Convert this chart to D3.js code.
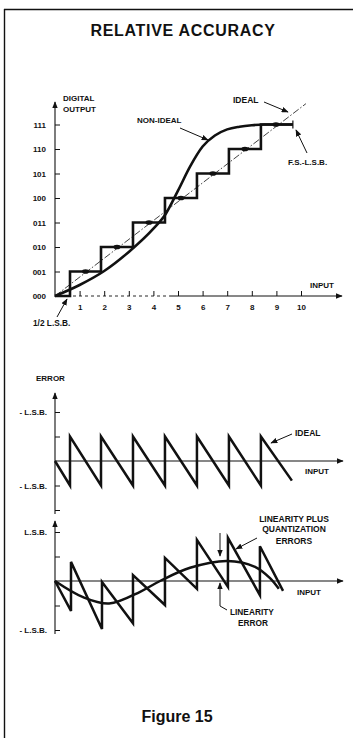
<!DOCTYPE html>
<html><head><meta charset="utf-8">
<script src="https://cdn.jsdelivr.net/npm/d3@7"></script>
<style>
html,body{margin:0;padding:0;background:#fff;}
svg{display:block;font-family:"Liberation Sans",Arial,Helvetica,sans-serif;font-weight:bold;}
</style></head>
<body>
<script>
// ---------- DATA ----------
const codeLabels = ["000","001","010","011","100","101","110","111"];
const codeValues = [0,1,2,3,4,5,6,7];
const inputTicks = [1,2,3,4,5,6,7,8,9,10];
// staircase: transitions (input units) and code held on each step
const stepEdges = [0, 0.61, 1.87, 3.17, 4.47, 5.77, 7.07, 8.37, 9.67];
const stepCodes = [0, 1, 2, 3, 4, 5, 6, 7];
// marks on step centres
const dotInputs = [1.24, 2.52, 3.82, 5.12, 6.42, 7.72, 8.98];
const dotCodes  = [1, 2, 3, 4, 5, 6, 7];
// ideal transfer line
const idealX = [0, 10.2];
const idealY = [0, 7.85];
// non-ideal transfer curve
const nonIdealX = [0, 1, 2, 3, 4, 4.5, 5, 5.5, 6, 6.5, 7, 7.5, 8, 8.5, 9, 9.67];
const nonIdealY = [0, 0.45, 1.02, 1.8, 2.75, 3.35, 4.3, 5.3, 6.1, 6.55, 6.8, 6.91, 6.97, 7.0, 7.0, 7.0];
// error chart 1 : ideal quantization error (LSB)
const qErrX = [0, 0.61, 0.61, 1.87, 1.87, 3.17, 3.17, 4.47, 4.47, 5.77, 5.77, 7.07, 7.07, 8.37, 8.37, 9.63];
const qErrY = [0, -0.5, 0.5, -0.5, 0.5, -0.5, 0.5, -0.5, 0.5, -0.5, 0.5, -0.5, 0.5, -0.5, 0.5, -0.4];
// error chart 2 : linearity plus quantization error (LSB)
const combX = [0, 0.65, 0.65, 1.91, 1.91, 3.17, 3.17, 4.47, 4.47, 5.77, 5.77, 7.03, 7.03, 8.33, 8.33, 9.27];
const combY = [0, -0.61, 0.39, -0.98, -0.02, -0.86, 0.12, -0.49, 0.47, -0.16, 0.84, -0.12, 0.88, -0.29, 0.71, -0.2];
// linearity error curve (LSB)
const linX = [0, 1.14, 2.2, 3.46, 4.27, 5.49, 7.0, 8.13, 8.74, 9.1];
const linY = [0, -0.33, -0.46, -0.22, 0, 0.27, 0.41, 0.29, 0.06, -0.16];
// error axes ticks & labels
const errTicks = [-1, -0.5, 0.5, 1];
const err1Labels = ["", "- L.S.B.", "", "- L.S.B."];
const err2Labels = ["- L.S.B.", "", "", "L.S.B."];

// ---------- LAYOUT ----------
const W = 353, H = 738;
const svg = d3.select("body").append("svg").attr("width", W).attr("height", H);
const defs = svg.append("defs");
defs.append("marker").attr("id","ah").attr("viewBox","0 -4 10 8")
  .attr("refX",9).attr("refY",0).attr("markerWidth",7).attr("markerHeight",5.6)
  .attr("markerUnits","userSpaceOnUse").attr("orient","auto")
  .append("path").attr("d","M0,-4L10,0L0,4Z").attr("fill","#111");

const ink = "#111";
const fs = 8;

// border
svg.append("line").attr("x1",4.5).attr("y1",9).attr("x2",4.5).attr("y2",H).attr("stroke",ink).attr("stroke-width",1.4);
svg.append("line").attr("x1",4).attr("y1",9.5).attr("x2",W).attr("y2",9.5).attr("stroke",ink).attr("stroke-width",1.4);

// title
svg.append("text").attr("x",183).attr("y",36).attr("text-anchor","middle")
  .attr("font-size",16).attr("letter-spacing",0.7).attr("fill",ink).text("RELATIVE ACCURACY");
svg.append("text").attr("x",177).attr("y",722).attr("text-anchor","middle")
  .attr("font-size",16).attr("fill",ink).text("Figure 15");

// ---------- TOP CHART ----------
const x = d3.scaleLinear().domain([0,10]).range([55,301]);
const y = d3.scaleLinear().domain([0,7]).range([296,124.5]);

// y axis
const gy = svg.append("g").attr("transform","translate(55,0)")
  .call(d3.axisLeft(y).tickValues(codeValues).tickSizeInner(-5).tickSizeOuter(0).tickPadding(9)
        .tickFormat((d,i)=>codeLabels[i]));
gy.select(".domain").remove();
gy.selectAll(".tick line").attr("stroke",ink).attr("stroke-width",1);
gy.selectAll(".tick").filter(d=>d===0).select("line").remove();
gy.selectAll("text").attr("font-size",fs).attr("font-family",null).attr("fill",ink);
svg.append("line").attr("x1",55).attr("y1",297).attr("x2",55).attr("y2",102)
  .attr("stroke",ink).attr("stroke-width",1.1).attr("marker-end","url(#ah)");

// x axis
const gx = svg.append("g").attr("transform","translate(0,296)")
  .call(d3.axisBottom(x).tickValues(inputTicks).tickSizeInner(-5).tickSizeOuter(0).tickPadding(8));
gx.select(".domain").remove();
gx.selectAll(".tick line").attr("stroke",ink).attr("stroke-width",1);
gx.selectAll("text").attr("font-size",fs).attr("font-family",null).attr("fill",ink);
svg.append("line").attr("x1",55).attr("y1",296).attr("x2",170).attr("y2",296)
  .attr("stroke",ink).attr("stroke-width",0.9).attr("stroke-dasharray","3,3");
svg.append("line").attr("x1",170).attr("y1",296).attr("x2",342).attr("y2",296)
  .attr("stroke",ink).attr("stroke-width",1).attr("marker-end","url(#ah)");

// ideal line (dash-dot)
svg.append("path").datum(idealX.map((v,i)=>[v,idealY[i]]))
  .attr("d", d3.line().x(d=>x(d[0])).y(d=>y(d[1])))
  .attr("fill","none").attr("stroke",ink).attr("stroke-width",0.8).attr("stroke-dasharray","7,2,1.5,2");

// staircase
const stairPts = [];
stepCodes.forEach((c,i)=>{ stairPts.push([stepEdges[i],c]); stairPts.push([stepEdges[i+1],c]); });
svg.append("path").datum(stairPts)
  .attr("d", d3.line().x(d=>x(d[0])).y(d=>y(d[1])))
  .attr("fill","none").attr("stroke",ink).attr("stroke-width",2.6).attr("stroke-linejoin","miter");
// end mark
const endX = stepEdges[stepEdges.length-1];
svg.append("line").attr("x1",x(endX)).attr("x2",x(endX)).attr("y1",y(7)-4).attr("y2",y(7)+4)
  .attr("stroke",ink).attr("stroke-width",1.2);

// dots
svg.selectAll("ellipse.dot").data(dotInputs).enter().append("ellipse")
  .attr("cx",(d)=>x(d)).attr("cy",(d,i)=>y(dotCodes[i])).attr("rx",3.5).attr("ry",2.3).attr("fill",ink);

// non-ideal curve
svg.append("path").datum(nonIdealX.map((v,i)=>[v,nonIdealY[i]]))
  .attr("d", d3.line().curve(d3.curveMonotoneX).x(d=>x(d[0])).y(d=>y(d[1])))
  .attr("fill","none").attr("stroke",ink).attr("stroke-width",2.6);

// labels
function label(tx,ty,str,anchor,size){
  svg.append("text").attr("x",tx).attr("y",ty).attr("font-size",size||fs).attr("fill",ink)
    .attr("text-anchor",anchor||"start").text(str);
}
function arrow(x1,y1,x2,y2){
  svg.append("line").attr("x1",x1).attr("y1",y1).attr("x2",x2).attr("y2",y2)
    .attr("stroke",ink).attr("stroke-width",1).attr("marker-end","url(#ah)");
}
label(63,101,"DIGITAL");
label(63,111.5,"OUTPUT");
label(233,103,"IDEAL","start",8.5);
arrow(264,102,288,112);
label(137,123,"NON-IDEAL");
arrow(180,128,208,140);
label(288,165,"F.S.-L.S.B.");
arrow(307,153,296,130);
label(310,288,"INPUT");
label(33,326,"1/2 L.S.B.","start",8.3);
arrow(57,317,67,299);

// ---------- ERROR CHART 1 ----------
const ye1 = d3.scaleLinear().domain([-1,1]).range([510,412]);
const ga = svg.append("g").attr("transform","translate(55,0)")
  .call(d3.axisLeft(ye1).tickValues(errTicks).tickSizeInner(-5).tickSizeOuter(0).tickPadding(8)
        .tickFormat((d,i)=>err1Labels[i]));
ga.select(".domain").remove();
ga.selectAll(".tick line").attr("stroke",ink).attr("stroke-width",1);
ga.selectAll("text").attr("font-size",fs).attr("font-family",null).attr("fill",ink);
svg.append("line").attr("x1",55).attr("y1",514).attr("x2",55).attr("y2",393)
  .attr("stroke",ink).attr("stroke-width",1.1).attr("marker-end","url(#ah)");
svg.append("line").attr("x1",55).attr("y1",ye1(0)).attr("x2",343).attr("y2",ye1(0))
  .attr("stroke",ink).attr("stroke-width",1.1).attr("marker-end","url(#ah)");
svg.append("path").datum(qErrX.map((v,i)=>[v,qErrY[i]]))
  .attr("d", d3.line().x(d=>x(d[0])).y(d=>ye1(d[1])))
  .attr("fill","none").attr("stroke",ink).attr("stroke-width",2.5).attr("stroke-linejoin","miter");
label(36,381,"ERROR");
label(295,436,"IDEAL","start",8.5);
arrow(292,434,271,443);
label(305,474,"INPUT");

// ---------- ERROR CHART 2 ----------
const ye2 = d3.scaleLinear().domain([-1,1]).range([630,532]);
const gb = svg.append("g").attr("transform","translate(55,0)")
  .call(d3.axisLeft(ye2).tickValues(errTicks).tickSizeInner(-5).tickSizeOuter(0).tickPadding(8)
        .tickFormat((d,i)=>err2Labels[i]));
gb.select(".domain").remove();
gb.selectAll(".tick line").attr("stroke",ink).attr("stroke-width",1);
gb.selectAll("text").attr("font-size",fs).attr("font-family",null).attr("fill",ink);
svg.append("line").attr("x1",55).attr("y1",634).attr("x2",55).attr("y2",521)
  .attr("stroke",ink).attr("stroke-width",1.1).attr("marker-end","url(#ah)");
svg.append("line").attr("x1",55).attr("y1",ye2(0)).attr("x2",343).attr("y2",ye2(0))
  .attr("stroke",ink).attr("stroke-width",1.1).attr("marker-end","url(#ah)");
svg.append("path").datum(combX.map((v,i)=>[v,combY[i]]))
  .attr("d", d3.line().x(d=>x(d[0])).y(d=>ye2(d[1])))
  .attr("fill","none").attr("stroke",ink).attr("stroke-width",2.5).attr("stroke-linejoin","miter");
svg.append("path").datum(linX.map((v,i)=>[v,linY[i]]))
  .attr("d", d3.line().curve(d3.curveCatmullRom).x(d=>x(d[0])).y(d=>ye2(d[1])))
  .attr("fill","none").attr("stroke",ink).attr("stroke-width",2.5);
label(294,521.5,"LINEARITY PLUS","middle",8.5);
label(294,532,"QUANTIZATION","middle",8.5);
label(294,543.5,"ERRORS","middle",8.5);
arrow(257,538,236,549);
arrow(220,533,220,556);
svg.append("path").attr("d","M227,610L220,606L220,583")
  .attr("fill","none").attr("stroke",ink).attr("stroke-width",1).attr("marker-end","url(#ah)");
label(230,615,"LINEARITY","start",8.3);
label(238,625.5,"ERROR","start",8.3);
label(297,595,"INPUT");
</script>
</body></html>
